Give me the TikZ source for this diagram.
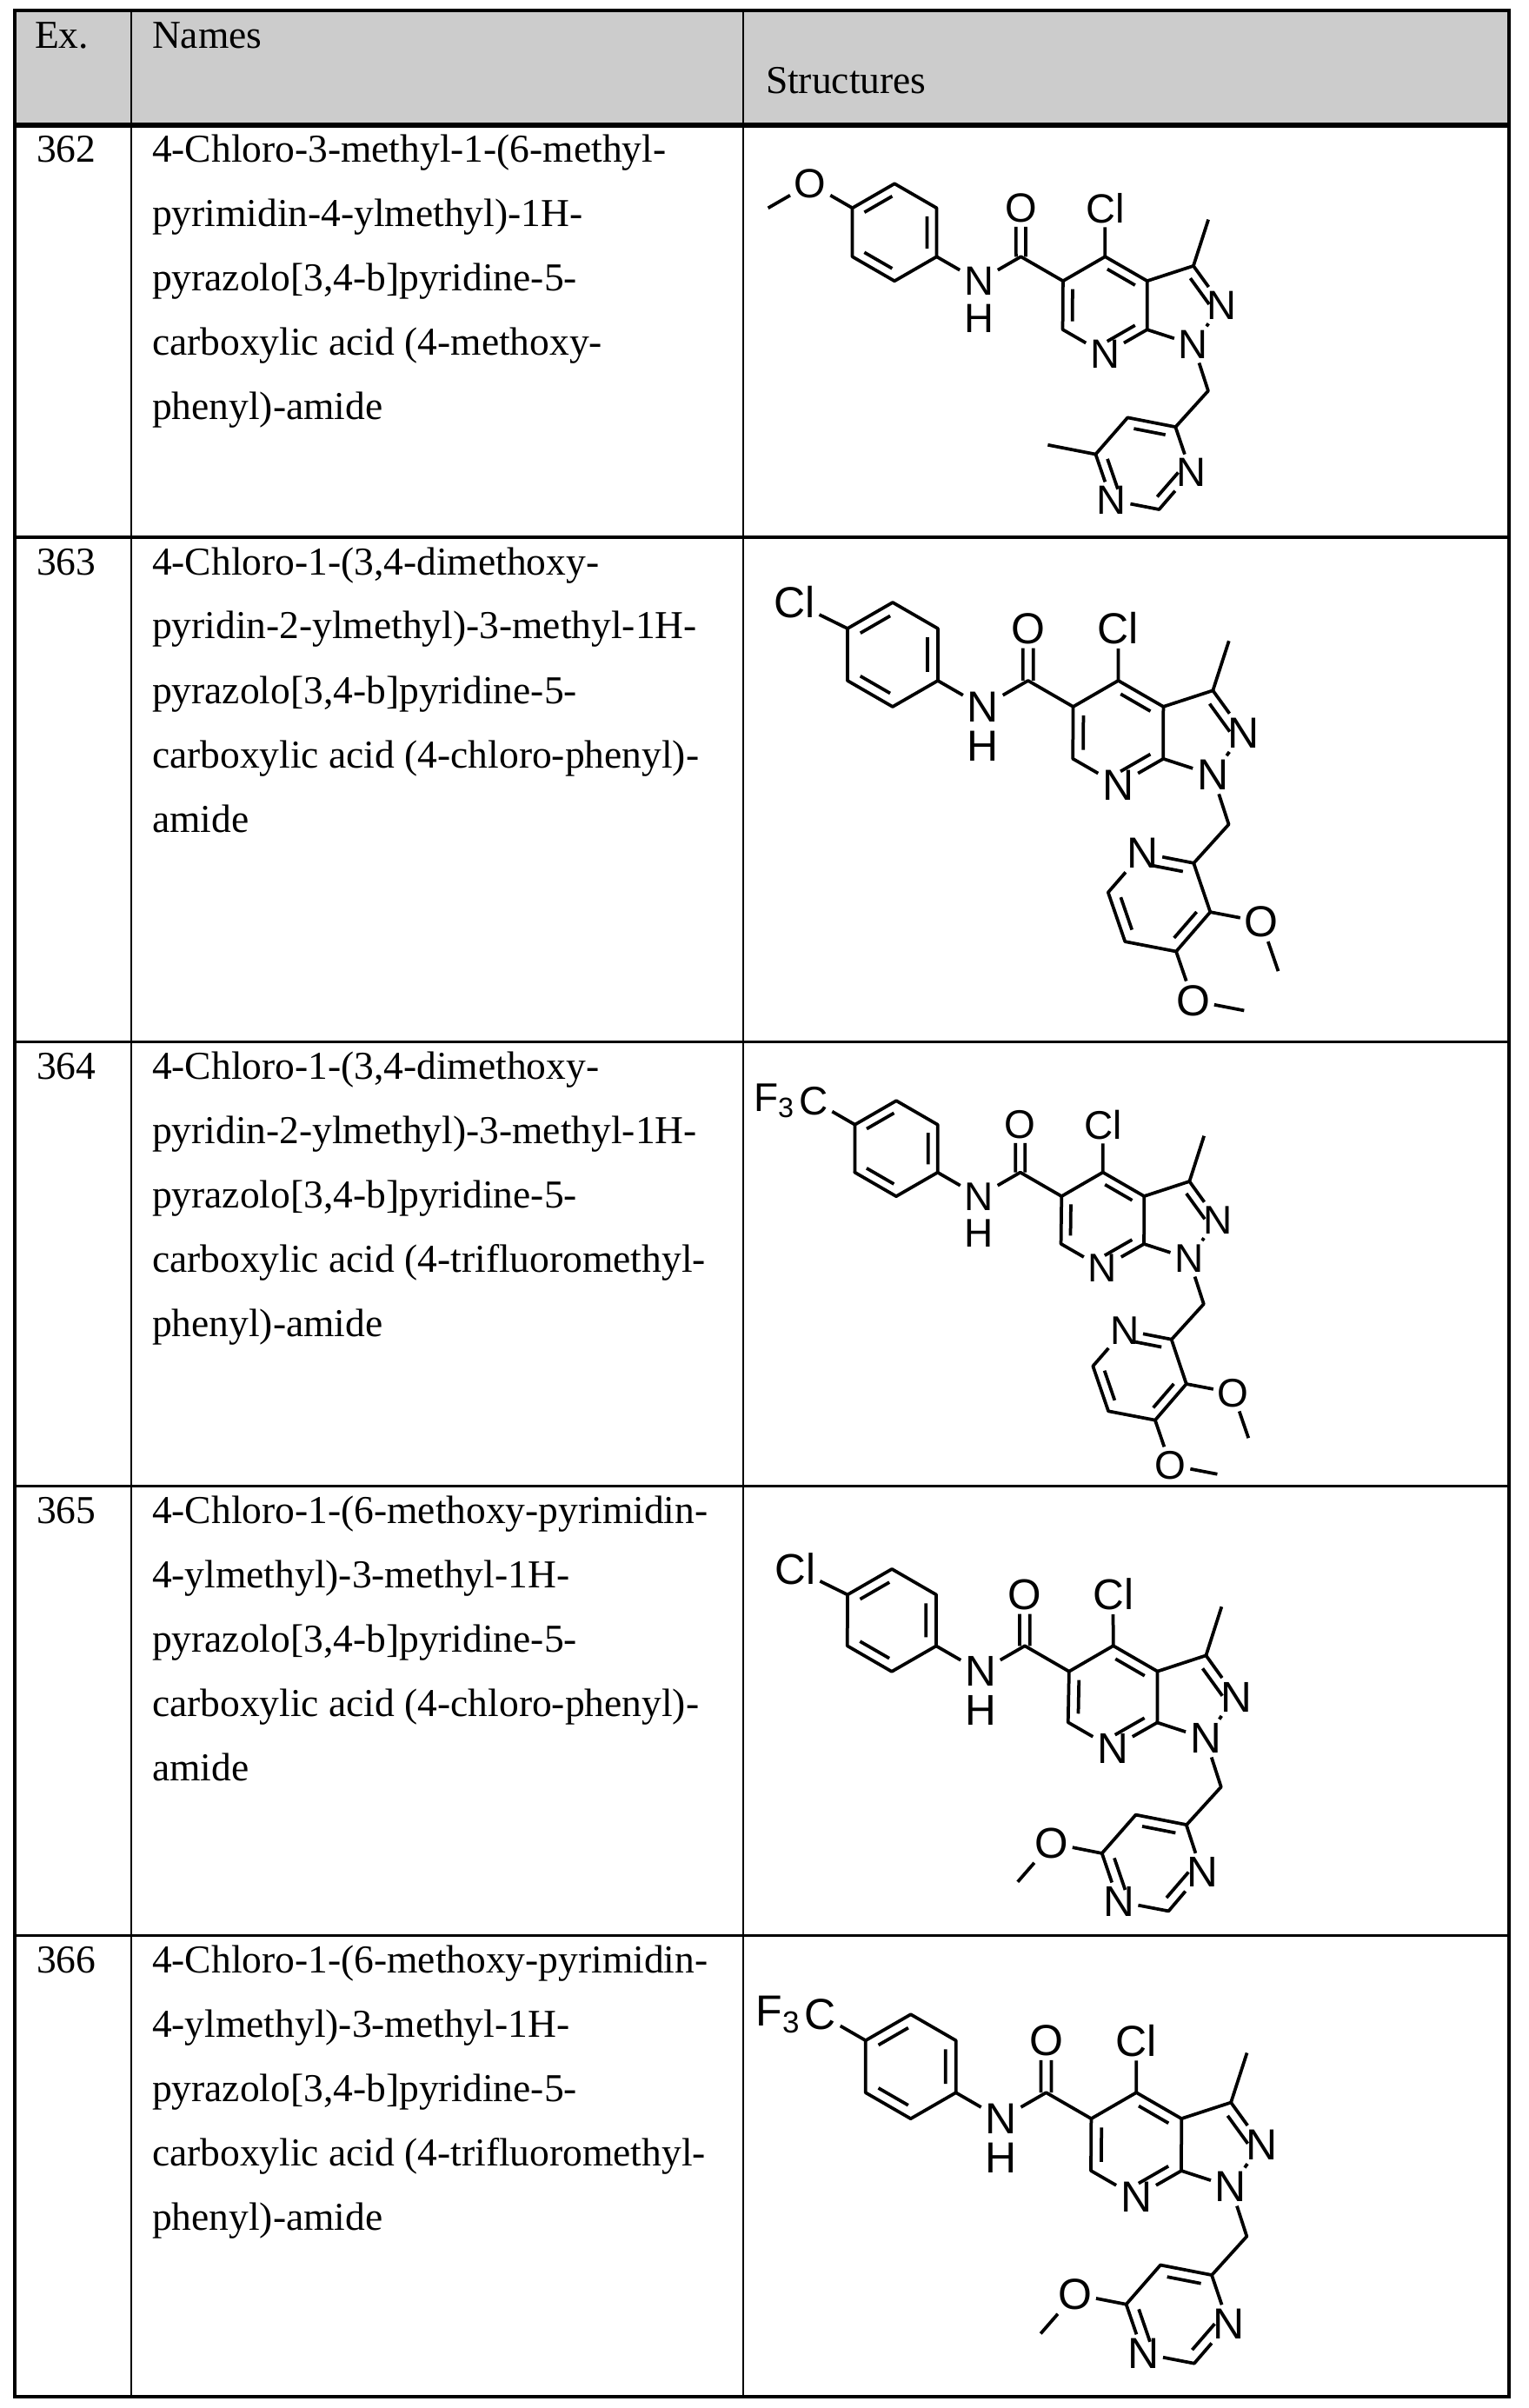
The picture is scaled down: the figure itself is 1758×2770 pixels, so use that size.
\documentclass[tikz,border=0pt]{standalone}
\usepackage{fontspec}
\setmainfont{Liberation Serif}
\newfontfamily\chemfont{Liberation Sans}
\usetikzlibrary{calc}
\def\af{7.3}
\newcommand\inb[4][0.23]{\path ($(#2)!0.5!(#3)$) coordinate (mm) ($(mm)!#1!(#4)$) coordinate (oo);
  \draw ($(#2)!0.17!(#3)+(oo)-(mm)$) -- ($(#3)!0.17!(#2)+(oo)-(mm)$);}
\newcommand\core{%
  \coordinate (A) at (0,0);
  \coordinate (B1) at (30:1);
  \coordinate (B2) at ($(B1)+(-30:1)$);
  \coordinate (B3) at ($(B2)+(-90:1)$);
  \coordinate (B4) at ($(B3)+(210:1)$);
  \coordinate (B5) at ($(B4)+(150:1)$);
  \coordinate (BC) at ($(A)!0.5!(B3)$);
  \node[atom] (NH) at ($(B3)+(-30:1)$) {N};
  \node[atom,anchor=north,inner sep=0pt,yshift=-0.8pt] (H) at (NH.south) {H};
  \coordinate (Cc) at ($(NH)+(30:1)$);
  \node[atom] (Oc) at ($(Cc)+(90:1)$) {O};
  \coordinate (C5) at ($(Cc)+(-30:1)$);
  \coordinate (C4) at ($(C5)+(30:1)$);
  \coordinate (C3a) at ($(C4)+(-30:1)$);
  \coordinate (C7a) at ($(C3a)+(-90:1)$);
  \node[atom] (N7) at ($(C7a)+(210:1)$) {N};
  \coordinate (C6) at ($(N7)+(150:1)$);
  \coordinate (PC) at ($(C4)!0.5!(N7)$);
  \node[atom] (Cl4) at ($(C4)+(90:1)$) {Cl};
  \coordinate (C3) at ($(C3a)+(18:1)$);
  \node[atom] (N2) at ($(C3)+(-54:1)$) {N};
  \node[atom] (N1) at ($(N2)+(-126:1)$) {N};
  \coordinate (Me3) at ($(C3)+(72:1)$);
  \coordinate (ZC) at ($(C3a)!0.5!(C7a)+(0.688,0)$);
  \coordinate (CH2) at ($(N1)+(-72:1)$);
  \coordinate (pR0) at ($(CH2)+(228:1)$);
  \coordinate (pR1) at ($(pR0)+(169:1)$);
  \coordinate (pR2) at ($(pR1)+(229:1)$);
  \coordinate (pR3) at ($(pR2)+(289:1)$);
  \coordinate (pR4) at ($(pR3)+(349:1)$);
  \coordinate (pR5) at ($(pR4)+(49:1)$);
  \coordinate (RC) at ($(pR0)!0.5!(pR3)$);
  \draw (A)--(B1)--(B2)--(B3)--(B4)--(B5)--cycle;
  \draw (B3)--(NH)--(Cc)--(C5)--(C4)--(C3a)--(C7a)--(N7)--(C6)--(C5);
  \draw (C4)--(Cl4);
  \draw (C3a)--(C3)--(N2)--(N1)--(C7a);
  \draw (C3)--(Me3);
  \draw (N1)--(CH2)--(pR0);
  \draw ($(Cc)+(-0.1,0)$) -- ($(Oc.south)+(-0.1,0)$);
  \draw ($(Cc)+(0.1,0)$) -- ($(Oc.south)+(0.1,0)$);
  \inb{A}{B1}{BC}\inb{B2}{B3}{BC}\inb{B4}{B5}{BC}
  \inb{C4}{C3a}{PC}\inb{C5}{C6}{PC}\inb{C7a}{N7}{PC}
  \inb[0.29]{C3}{N2}{ZC}}
\newcommand\ringbonds{\draw (R0)--(R1)--(R2)--(R3)--(R4)--(R5)--(R0);
  \inb{R0}{R1}{RC}\inb{R2}{R3}{RC}\inb{R4}{R5}{RC}}
\newcommand\pyrimidine{%
  \coordinate (R0) at (pR0); \coordinate (R1) at (pR1); \coordinate (R2) at (pR2);
  \node[atom] (R3) at (pR3) {N}; \coordinate (R4) at (pR4); \node[atom] (R5) at (pR5) {N};
  \ringbonds}
\newcommand\pyridine{%
  \coordinate (R0) at (pR0); \node[atom] (R1) at (pR1) {N}; \coordinate (R2) at (pR2);
  \coordinate (R3) at (pR3); \coordinate (R4) at (pR4); \coordinate (R5) at (pR5);
  \ringbonds
  \node[atom] (Oa) at ($(R5)+(349:1)$) {O}; \coordinate (Ma) at ($(Oa)+(289:1)$);
  \node[atom] (Ob) at ($(R4)+(289:1)$) {O}; \coordinate (Mb) at ($(Ob)+(349:1)$);
  \draw (R5)--(Oa)--(Ma); \draw (R4)--(Ob)--(Mb);}
\newcommand\ome{\node[atom] (Os) at ($(A)+(150:1)$) {O}; \coordinate (Ms) at ($(Os)+(210:1)$); \draw (A)--(Os)--(Ms);}
\newcommand\clA{\node[atom] (Cls) at ($(A)+(150:1)+(-0.15,0)$) {Cl}; \draw (A)--(Cls);}
\newcommand\cfA{\node[atom] (Cf) at ($(A)+(150:1)$) {C}; \node[atom,anchor=east,inner xsep=0pt,xshift=0.6pt] (F3) at (Cf.west) {F\textsubscript{3}}; \draw (A)--(Cf);}
\newcommand\pyrOMe{\pyrimidine \node[atom] (Or) at ($(R2)+(169:1)$) {O}; \coordinate (Mr) at ($(Or)+(229:1)$); \draw (R2)--(Or)--(Mr);}
\newcommand\pyrMe{\pyrimidine \coordinate (Mr) at ($(R2)+(169:1)$); \draw (R2)--(Mr);}
\newcommand\names[3]{\node[txt] (ex#2) at (41,-#1) {#2};
  \foreach \l [count=\i] in {#3} \node[txt] (nm#2-\i) at (174,{-#1-(\i-1)*74}) {\l};}
\begin{document}
\begin{tikzpicture}[x=0.2pt,y=0.2pt,
  atom/.style={font={\chemfont\fontsize{\af}{\af}\selectfont}, inner sep=0.6pt},
  txt/.style={anchor=base west, inner sep=0pt, font={\fontsize{9.1}{10}\selectfont}},
  mol/.style={line width=0.75pt, line join=round}]
\useasboundingbox (0,0) rectangle (1758,-2770);
\fill[white] (0,0) rectangle (1758,-2770);
\fill[black!20] (17,-12) rectangle (1736,-144);
\draw[line width=0.5pt] (151,-12) -- (151,-2757) (855,-12) -- (855,-2757);
\draw[line width=0.6pt] (17,-618) -- (1736,-618) (17,-1198) -- (1736,-1198) (17,-1709) -- (1736,-1709) (17,-2226) -- (1736,-2226);
\draw[line width=1.1pt] (17,-144) -- (1736,-144);
\draw[line width=0.9pt] (17,-12) rectangle (1736,-2757);
\node[txt] (hEx) at (39,-56) {Ex.};
\node[txt] (hNames) at (174,-56) {Names};
\node[txt] (hStruct) at (880,-108) {Structures};
\names{187}{362}{{4-Chloro-3-methyl-1-(6-methyl-},{pyrimidin-4-ylmethyl)-1H-},{pyrazolo[3,4-b]pyridine-5-},{carboxylic acid (4-methoxy-},{phenyl)-amide}}
\names{661}{363}{{4-Chloro-1-(3,4-dimethoxy-},{pyridin-2-ylmethyl)-3-methyl-1H-},{pyrazolo[3,4-b]pyridine-5-},{carboxylic acid (4-chloro-phenyl)-},{amide}}
\names{1241}{364}{{4-Chloro-1-(3,4-dimethoxy-},{pyridin-2-ylmethyl)-3-methyl-1H-},{pyrazolo[3,4-b]pyridine-5-},{carboxylic acid (4-trifluoromethyl-},{phenyl)-amide}}
\names{1752}{365}{{4-Chloro-1-(6-methoxy-pyrimidin-},{4-ylmethyl)-3-methyl-1H-},{pyrazolo[3,4-b]pyridine-5-},{carboxylic acid (4-chloro-phenyl)-},{amide}}
\names{2269}{366}{{4-Chloro-1-(6-methoxy-pyrimidin-},{4-ylmethyl)-3-methyl-1H-},{pyrazolo[3,4-b]pyridine-5-},{carboxylic acid (4-trifluoromethyl-},{phenyl)-amide}}
% 362
\begin{scope}\clip (856,-145) rectangle (1735,-617);
\def\af{9.4}\begin{scope}[mol,shift={(980.6,-239.3)},scale=56]\core\ome\pyrMe\end{scope}\end{scope}
% 363
\begin{scope}\clip (856,-619) rectangle (1735,-1197);
\def\af{10}\begin{scope}[mol,shift={(975,-723)},scale=60]\core\clA\pyridine\end{scope}\end{scope}
% 364
\begin{scope}\clip (856,-1199) rectangle (1735,-1708);
\def\af{9.2}\begin{scope}[mol,shift={(983.5,-1293.7)},scale=55]\core\cfA\pyridine\end{scope}\end{scope}
% 365
\begin{scope}\clip (856,-1710) rectangle (1735,-2225);
\def\af{9.9}\begin{scope}[mol,shift={(975,-1834.4)},scale=59]\core\clA\pyrOMe\end{scope}\end{scope}
% 366
\begin{scope}\clip (856,-2227) rectangle (1735,-2756);
\def\af{10}\begin{scope}[mol,shift={(995.8,-2347.2)},scale=60]\core\cfA\pyrOMe\end{scope}\end{scope}
\end{tikzpicture}
\end{document}
